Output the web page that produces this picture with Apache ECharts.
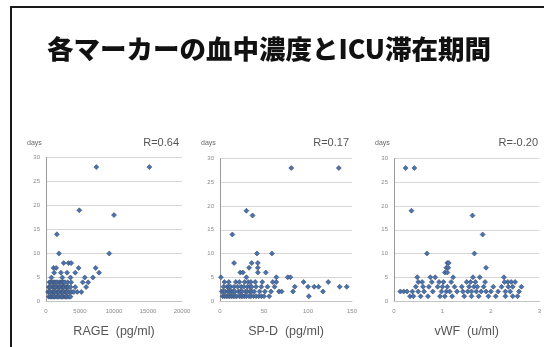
<!DOCTYPE html>
<html>
<head>
<meta charset="utf-8">
<script src="https://cdn.jsdelivr.net/npm/echarts@6/dist/echarts.min.js"></script>
<style>
  html, body { margin: 0; padding: 0; background: #fff; }
  #chart { width: 544px; height: 347px; }
</style>
</head>
<body>
<div id="chart"></div>
<script>
// ICU stay (days) against serum level of each marker
const titleText = '各マーカーの血中濃度とICU滞在期間';

const panelNames = ['RAGE  (pg/ml)', 'SP-D  (pg/ml)', 'vWF  (u/ml)'];
const panelR = ['R=0.64', 'R=0.17', 'R=-0.20'];
const yTicks = [0, 5, 10, 15, 20, 25, 30];
const xMax = [20000, 150, 3];
const xStep = [5000, 50, 1];

// RAGE (pg/ml), days
const rageData = [
  [7400, 28], [15200, 28], [4900, 19], [10000, 18], [1600, 14], [1900, 10], [9300, 10],
  [2600, 8], [3300, 8], [3700, 8], [1100, 7], [1500, 7], [4800, 7], [7300, 7], [7800, 6],
  [6900, 5], [1200, 6], [2200, 6], [3100, 6], [4300, 6], [5700, 5], [3600, 5], [800, 5],
  [2400, 5], [6200, 4], [5400, 4], [5900, 3], [5200, 2], [4600, 2], [4300, 3],
  [400, 1], [650, 1], [800, 1], [1000, 1], [1200, 1], [1300, 1], [1600, 1], [1750, 1], [1900, 1],
  [2200, 1], [2350, 1], [2500, 1], [2800, 1], [2950, 1], [3100, 1], [3400, 1], [3600, 1],
  [300, 2], [450, 2], [600, 2], [900, 2], [1100, 2], [1250, 2], [1400, 2], [1700, 2], [1850, 2],
  [2000, 2], [2300, 2], [2450, 2], [2600, 2], [2900, 2], [3050, 2], [3200, 2], [3500, 2], [3800, 2], [4100, 2],
  [400, 3], [550, 3], [700, 3], [1000, 3], [1200, 3], [1350, 3], [1500, 3], [1800, 3], [1950, 3],
  [2100, 3], [2400, 3], [2550, 3], [2700, 3], [3000, 3], [3150, 3], [3300, 3], [3600, 3],
  [500, 4], [700, 4], [900, 4], [1100, 4], [1300, 4], [1500, 4], [1700, 4], [2000, 4], [2200, 4],
  [2400, 4], [2600, 4], [2800, 4], [3200, 4], [3700, 4]
];

// SP-D (pg/ml), days
const spdData = [
  [81, 28], [135, 28], [30, 19], [37, 18], [14, 14], [42, 10], [59, 10], [16, 8], [36, 8],
  [43, 8], [33, 7], [43, 7], [23, 6], [26, 6], [43, 6], [52, 6], [1, 5], [30, 5], [64, 5],
  [77, 5], [80, 5], [64, 4], [95, 4], [123, 4], [85, 3], [100, 3], [107, 3], [112, 3],
  [136, 3], [144, 3], [83, 2], [117, 2], [101, 1], [67, 2], [70, 2],
  [3, 1], [5, 1], [7, 1], [9, 1], [11, 1], [13, 1], [15, 1], [17, 1], [19, 1], [22, 1], [24, 1],
  [26, 1], [28, 1], [30, 1], [33, 1], [35, 1], [38, 1], [41, 1], [44, 1], [47, 1], [50, 1], [56, 1],
  [2, 2], [4, 2], [6, 2], [9, 2], [11, 2], [13, 2], [15, 2], [17, 2], [21, 2], [23, 2], [25, 2],
  [29, 2], [31, 2], [34, 2], [36, 2], [39, 2], [45, 2], [51, 2], [58, 2],
  [4, 3], [8, 3], [10, 3], [12, 3], [16, 3], [20, 3], [24, 3], [27, 3], [31, 3], [34, 3], [36, 3],
  [41, 3], [47, 3], [54, 3], [62, 3],
  [5, 4], [10, 4], [18, 4], [22, 4], [28, 4], [32, 4], [35, 4], [40, 4], [48, 4], [60, 4]
];

// vWF (u/ml), days
const vwfData = [
  [0.24, 28], [0.42, 28], [0.36, 19], [1.62, 18], [1.83, 14], [0.68, 10], [1.66, 10], [1.9, 7],
  [1.1, 8], [1.13, 8], [1.08, 7], [1.12, 7], [1.05, 6], [1.1, 6], [0.48, 5], [0.75, 5], [0.85, 5],
  [1.22, 5], [1.63, 5], [1.77, 5], [2.27, 5], [0.13, 2], [0.2, 2], [0.27, 2], [0.33, 1],
  [2.35, 4], [2.42, 4], [2.5, 4], [2.63, 3], [2.55, 1],
  [0.4, 1], [0.55, 1], [0.7, 1], [0.95, 1], [1.05, 1], [1.2, 1], [1.45, 1], [1.6, 1], [1.75, 1],
  [1.95, 1], [2.1, 1], [2.3, 1], [2.45, 1],
  [0.38, 2], [0.5, 2], [0.62, 2], [0.8, 2], [0.98, 2], [1.08, 2], [1.15, 2], [1.3, 2], [1.42, 2],
  [1.52, 2], [1.6, 2], [1.7, 2], [1.8, 2], [1.9, 2], [2.0, 2], [2.15, 2], [2.3, 2], [2.4, 2], [2.58, 2],
  [0.45, 3], [0.6, 3], [0.72, 3], [0.9, 3], [1.0, 3], [1.1, 3], [1.25, 3], [1.4, 3], [1.55, 3],
  [1.65, 3], [1.72, 3], [1.85, 3], [2.05, 3], [2.22, 3], [2.36, 3], [2.45, 3],
  [0.5, 4], [0.58, 4], [0.78, 4], [0.93, 4], [1.02, 4], [1.18, 4], [1.5, 4], [1.58, 4], [1.68, 4],
  [1.88, 4], [2.28, 4]
];

const panelData = [rageData, spdData, vwfData];

// plot boxes in pixels: left, right edge x, top, bottom
const boxes = [
  { left: 46, right: 182, top: 157.5, bottom: 301.5 },
  { left: 220, right: 352, top: 158.5, bottom: 301 },
  { left: 394, right: 541, top: 158.5, bottom: 301 }
];
const W = 544, H = 347;

const grids = boxes.map(b => ({
  left: b.left, top: b.top, width: b.right - b.left, height: b.bottom - b.top, containLabel: false
}));

const tickFont = { fontSize: 6, color: '#8a8a8a', fontFamily: 'Liberation Sans, Arial, sans-serif' };

const xAxes = boxes.map((b, i) => ({
  gridIndex: i, type: 'value', min: 0, max: xMax[i], interval: xStep[i],
  axisLine: { show: true, lineStyle: { color: '#c4c4c4', width: 1 } },
  axisTick: { show: false },
  splitLine: { show: false },
  axisLabel: Object.assign({ margin: 7, showMinLabel: true, showMaxLabel: true, hideOverlap: false,
    formatter: v => String(v) }, tickFont),
  name: panelNames[i], nameLocation: 'middle', nameGap: 24,
  nameTextStyle: { fontSize: 12.5, color: '#555', fontFamily: 'Liberation Sans, Arial, sans-serif' }
}));

const yAxes = boxes.map((b, i) => ({
  gridIndex: i, type: 'value', min: 0, max: 30, interval: 5,
  axisLine: { show: true, lineStyle: { color: '#9a9a9a', width: 1 } },
  axisTick: { show: false },
  splitLine: { show: true, lineStyle: { color: '#d6d6d6', width: 1 } },
  axisLabel: Object.assign({ margin: 6 }, tickFont)
}));

const series = panelData.map((d, i) => ({
  type: 'scatter', xAxisIndex: i, yAxisIndex: i, data: d,
  symbol: 'diamond', symbolSize: 5,
  itemStyle: { color: '#4673b3', borderColor: '#404a60', borderWidth: 0.6, opacity: 1 },
  silent: true, animation: false
}));

const graphics = [
  // slide frame
  { type: 'rect', shape: { x: 11, y: 7, width: W + 20, height: H + 20 },
    style: { fill: 'none', stroke: '#1a1a1a', lineWidth: 2 }, z: 10 },
  { type: 'text', x: 269, y: 49,
    style: { text: titleText, fill: '#111', font: '900 26.5px "Noto Sans CJK JP", sans-serif',
      textAlign: 'center', textVerticalAlign: 'middle' } }
];
boxes.forEach((b, i) => {
  graphics.push({ type: 'text', x: b.left - 19, y: 143,
    style: { text: 'days', fill: '#666', font: '7px "Liberation Sans", Arial, sans-serif',
      textAlign: 'left', textVerticalAlign: 'middle' } });
  graphics.push({ type: 'text', x: b.right - 3, y: 143,
    style: { text: panelR[i], fill: '#555', font: '11px "Liberation Sans", Arial, sans-serif',
      textAlign: 'right', textVerticalAlign: 'middle' } });
});

const chart = echarts.init(document.getElementById('chart'), null, { renderer: 'canvas' });
chart.setOption({
  backgroundColor: '#ffffff',
  animation: false,
  grid: grids,
  xAxis: xAxes,
  yAxis: yAxes,
  series: series,
  graphic: graphics
});
</script>
</body>
</html>
